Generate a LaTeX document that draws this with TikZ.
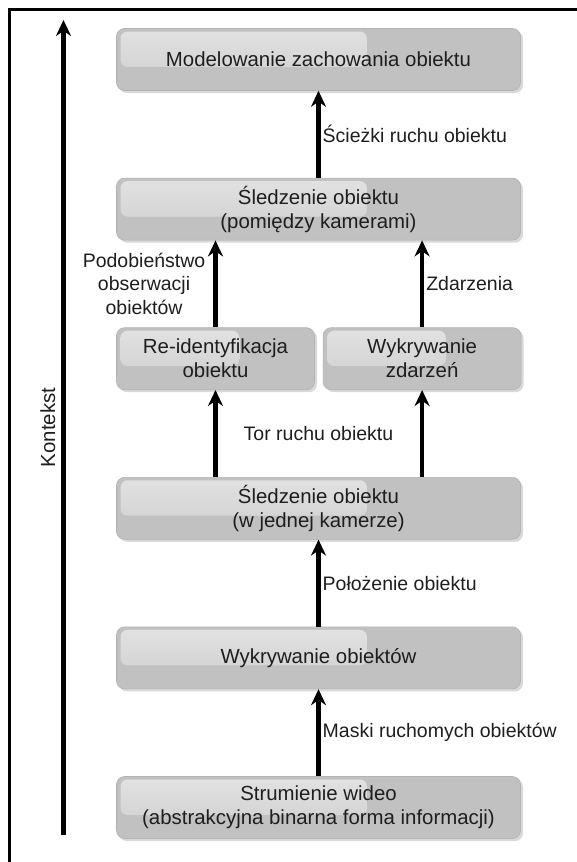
\documentclass[tikz,border=0pt]{standalone}
\usepackage{fontspec}
\setmainfont{Liberation Sans}
\usepackage{xcolor}
\usepackage{tikz}
\usetikzlibrary{arrows.meta, positioning, shadows, calc}
\definecolor{boxgray}{HTML}{C1C1C1}
\definecolor{boxedge}{HTML}{B3B3B3}
\definecolor{boxlight}{HTML}{E2E2E2}
\definecolor{boxmid}{HTML}{CDCDCD}
\definecolor{txtgray}{HTML}{1E1E1E}

\begin{document}
\begin{tikzpicture}[
    x=1pt, y=1pt,
    node distance=87pt,
    % Styles
    stage/.style={rectangle, rounded corners=8pt, draw=boxedge, line width=0.6pt, fill=boxgray,
        drop shadow={opacity=0.3, shadow xshift=2.5pt, shadow yshift=-2.5pt},
        minimum width=404pt, minimum height=62pt, align=center, text=txtgray,
        font=\fontsize{20.4}{24}\selectfont,
        path picture={\fill[rounded corners=7pt, top color=boxlight, bottom color=boxmid]
            ($(path picture bounding box.north west)+(4pt,-3pt)$) rectangle
            ($(path picture bounding box.north west)!0.62!(path picture bounding box.south east)$);}},
    halfstage/.style={stage, minimum width=198pt},
    arrow/.style={-{Stealth[length=16pt, width=15pt]}, line width=4.5pt},
    edgelabel/.style={font=\fontsize{19.5}{23.5}\selectfont, text=txtgray, inner sep=4pt, align=center},
    frame/.style={line width=3pt}
]
    \useasboundingbox (0,0) rectangle (576,-862);

    % Outer frame
    \draw[frame] (9,-870) |- (580,-9.5);

    % Stages, top to bottom
    \node[stage] (modelowanie) at (318.5,-59.5) {Modelowanie zachowania obiektu};
    \node[stage, below=of modelowanie] (miedzykamerami) {Śledzenie obiektu\\(pomiędzy kamerami)};
    \node[halfstage, below=of miedzykamerami.south west, anchor=north west] (reid) {Re-identyfikacja\\obiektu};
    \node[halfstage, right=8pt of reid] (zdarzenia) {Wykrywanie\\zdarzeń};
    \node[stage, below=of reid.south west, anchor=north west] (jednakamera) {Śledzenie obiektu\\(w jednej kamerze)};
    \node[stage, below=of jednakamera] (obiekty) {Wykrywanie obiektów};
    \node[stage, below=of obiekty] (wideo) {Strumienie wideo\\(abstrakcyjna binarna forma informacji)};

    % Arrows
    \draw[arrow] (miedzykamerami) -- (modelowanie);
    \draw[arrow] (reid.north) -- (reid.north |- miedzykamerami.south);
    \draw[arrow] (zdarzenia.north) -- (zdarzenia.north |- miedzykamerami.south);
    \draw[arrow] (jednakamera.north -| reid) -- (reid);
    \draw[arrow] (jednakamera.north -| zdarzenia) -- (zdarzenia);
    \draw[arrow] (obiekty) -- (jednakamera);
    \draw[arrow] (wideo) -- (obiekty);

    % Arrow labels
    \node[edgelabel, anchor=west] (sciezki) at ($(modelowanie.south)!0.5!(miedzykamerami.north)$) {Ścieżki ruchu obiektu};
    \node[edgelabel, anchor=east, inner sep=10pt] (podobienstwo) at ($(reid.north)!0.5!(reid.north |- miedzykamerami.south)$) {Podobieństwo\\obserwacji\\obiektów};
    \node[edgelabel, anchor=west] (zdarz) at ($(zdarzenia.north)!0.5!(zdarzenia.north |- miedzykamerami.south)$) {Zdarzenia};
    \node[edgelabel] (tor) at ($(jednakamera.north)!0.5!(jednakamera.north |- reid.south)$) {Tor ruchu obiektu};
    \node[edgelabel, anchor=west] (polozenie) at ($(jednakamera.south)!0.5!(obiekty.north)$) {Położenie obiektu};
    \node[edgelabel, anchor=west] (maski) at ($(obiekty.south)!0.5!(wideo.north)$) {Maski ruchomych obiektów};

    % Context axis
    \coordinate (kontekstdol) at (63.5,-835);
    \coordinate (kontekstgora) at (63.5,-20);
    \draw[arrow] (kontekstdol) -- (kontekstgora);
    \node[edgelabel, rotate=90, anchor=south, inner sep=8pt, font=\fontsize{20.4}{24}\selectfont] (kontekst)
        at ($(kontekstdol)!0.5!(kontekstgora)$) {Kontekst};
\end{tikzpicture}
\end{document}
